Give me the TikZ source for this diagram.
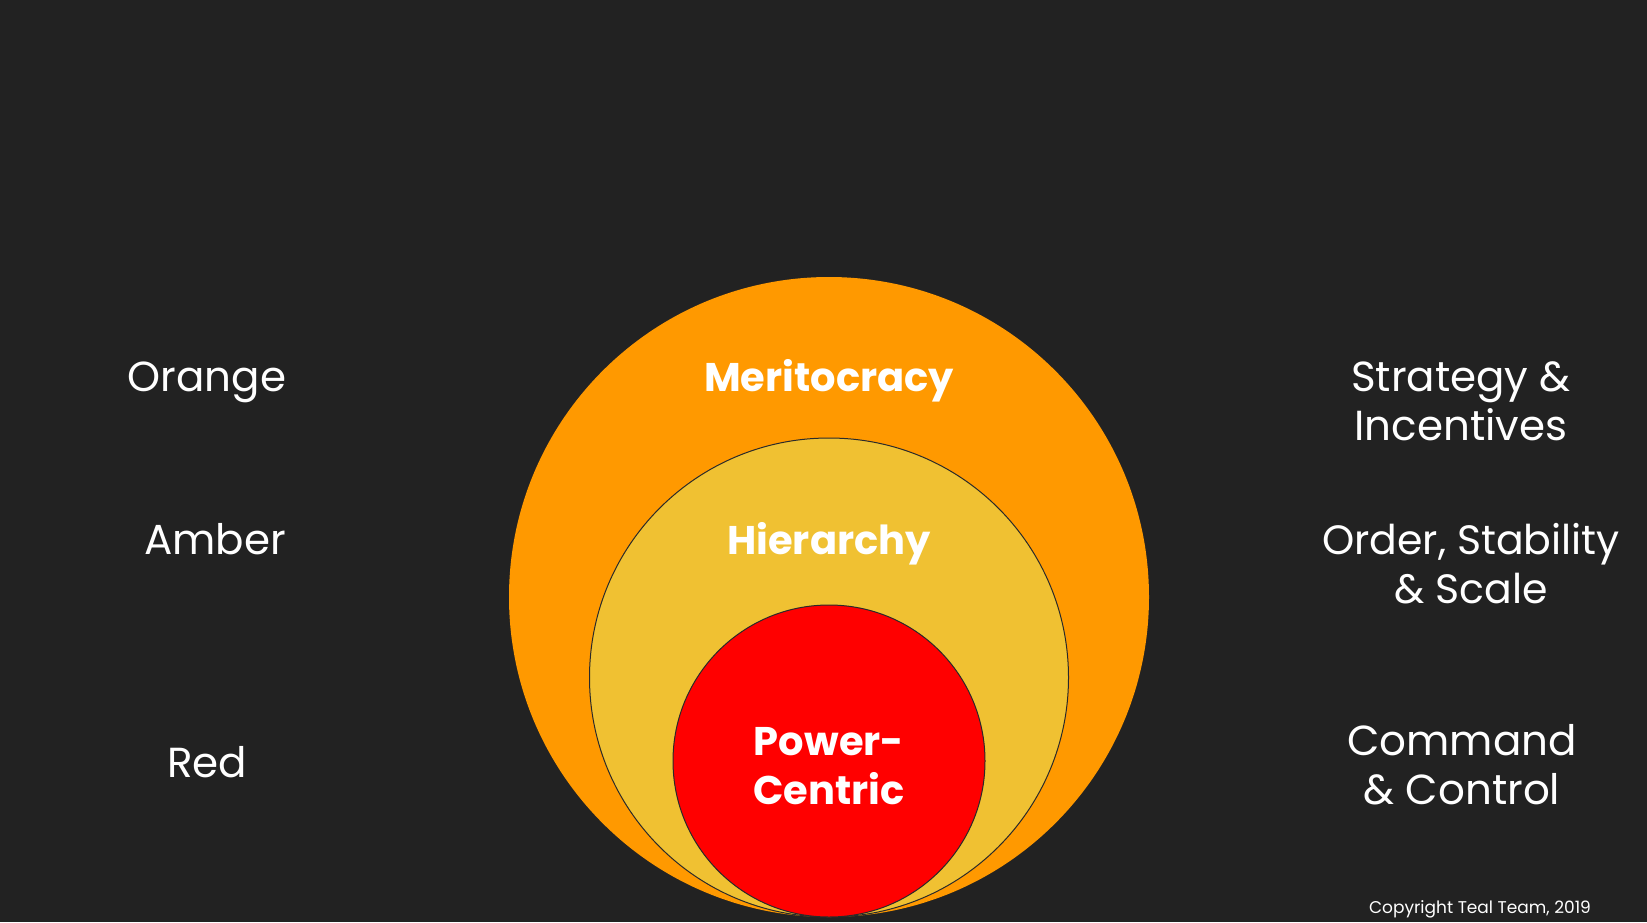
\documentclass[tikz,border=0pt]{standalone}
\usepackage{fontspec}
\setmainfont{Poppins}
\definecolor{bg}{HTML}{222222}
\definecolor{orangefill}{HTML}{FF9900}
\definecolor{amberfill}{HTML}{F0C132}
\definecolor{redfill}{HTML}{FF0000}
\definecolor{edge}{HTML}{2A2A2A}
\tikzset{
  lbl/.style={text=white, anchor=base, inner sep=0pt, align=center, font=\fontsize{42}{49}\selectfont},
  inlbl/.style={text=white, anchor=base, inner sep=0pt, align=center, font=\fontsize{40}{49}\selectfont\bfseries},
  ring/.style={draw=edge, line width=1pt},
}
\begin{document}
\begin{tikzpicture}[x=1pt,y=-1pt]
\fill[bg] (0,0) rectangle (1647,922);
\useasboundingbox (0,0) rectangle (1647,922);
% circles
\fill[orangefill] (829,597) circle[radius=320];
\filldraw[fill=amberfill, ring] (829,677.5) circle[radius=239.5];
\filldraw[fill=redfill, ring] (829,761) circle[radius=156];
% inner labels
\node[inlbl] (merit) at (829,391) {Meritocracy};
\node[inlbl] (hier) at (829,554) {Hierarchy};
\node[inlbl] (power) at (829,804) {Power-\\Centric};
% left labels
\node[lbl] (orange) at (207,391) {Orange};
\node[lbl] (amber) at (215,554) {Amber};
\node[lbl] (red) at (207,777) {Red};
% right labels
\node[lbl] (strat) at (1461,440) {Strategy \&\\Incentives};
\node[lbl, font=\fontsize{41}{49}\selectfont] (order) at (1471,603) {Order, Stability\\\& Scale};
\node[lbl] (cmd) at (1462,804) {Command\\\& Control};
% copyright
\node[text=white, anchor=base, inner sep=0pt, font=\fontsize{17}{20}\selectfont] (copy) at (1480,913) {Copyright Teal Team, 2019};
\end{tikzpicture}
\end{document}
